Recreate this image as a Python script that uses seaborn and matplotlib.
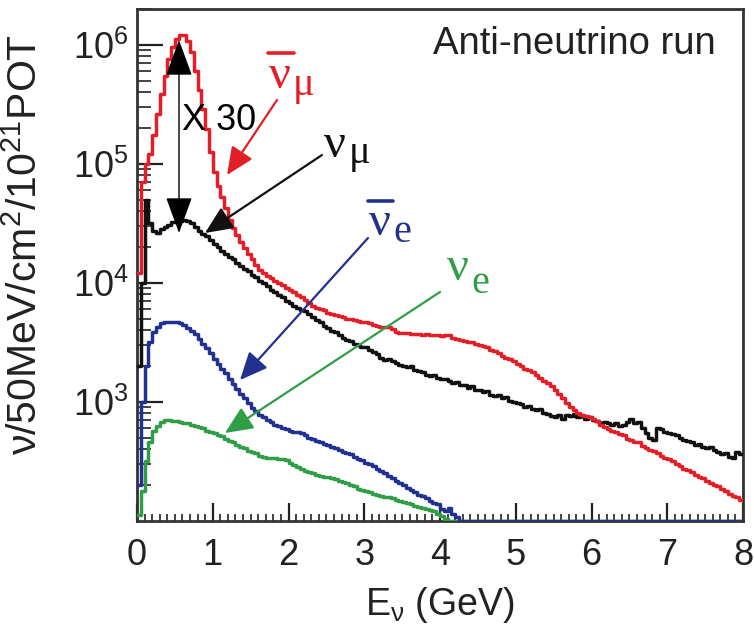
import numpy as np
import pandas as pd
import matplotlib
matplotlib.use("Agg")
import matplotlib.pyplot as plt
from matplotlib.lines import Line2D
from matplotlib.patches import FancyArrowPatch
import seaborn as sns
from matplotlib.ticker import LogLocator, LogFormatterMathtext, MultipleLocator, NullFormatter

# ---------------- data (log10 of flux per 50 MeV bin, bins 0.00-0.05, 0.05-0.10, ... GeV) ----
# None = empty bin (no flux)
BIN_WIDTH = 0.05

log_anti_numu = [
    4.08, 4.85, 5.00, 5.08, 5.24, 5.42, 5.59, 5.74, 5.88, 5.98,
    6.05, 6.08, 6.08, 6.03, 5.94, 5.78, 5.62, 5.46, 5.29, 5.10,
    4.93, 4.81, 4.72, 4.63, 4.53, 4.46, 4.40, 4.34, 4.29, 4.24,
    4.20, 4.15, 4.11, 4.08, 4.06, 4.04, 4.02, 4.00, 3.98, 3.96,
    3.94, 3.92, 3.90, 3.88, 3.86, 3.83, 3.81, 3.79, 3.78, 3.77,
    3.75, 3.74, 3.73, 3.72, 3.71, 3.70, 3.70, 3.69, 3.68, 3.67,
    3.67, 3.66, 3.65, 3.64, 3.63, 3.63, 3.63, 3.61, 3.59, 3.58,
    3.58, 3.58, 3.57, 3.57, 3.57, 3.56, 3.57, 3.56, 3.56, 3.56,
    3.55, 3.56, 3.56, 3.54, 3.53, 3.52, 3.51, 3.50, 3.50, 3.49,
    3.48, 3.47, 3.46, 3.44, 3.43, 3.41, 3.39, 3.37, 3.36, 3.34,
    3.32, 3.30, 3.28, 3.27, 3.25, 3.23, 3.20, 3.18, 3.16, 3.13,
    3.10, 3.07, 3.03, 2.99, 2.96, 2.93, 2.91, 2.89, 2.88, 2.87,
    2.86, 2.84, 2.81, 2.79, 2.77, 2.76, 2.75, 2.73, 2.72, 2.69,
    2.68, 2.66, 2.66, 2.63, 2.61, 2.60, 2.59, 2.57, 2.55, 2.53,
    2.52, 2.50, 2.48, 2.46, 2.44, 2.43, 2.41, 2.39, 2.37, 2.36,
    2.34, 2.32, 2.30, 2.29, 2.27, 2.25, 2.23, 2.21, 2.20, 2.18,
]

log_numu = [
    3.30, 4.00, 4.70, 4.50, 4.44, 4.42, 4.45, 4.47, 4.49, 4.51,
    4.51, 4.52, 4.53, 4.52, 4.50, 4.47, 4.44, 4.41, 4.39, 4.36,
    4.33, 4.30, 4.27, 4.24, 4.22, 4.20, 4.17, 4.14, 4.12, 4.10,
    4.07, 4.05, 4.02, 4.00, 3.97, 3.94, 3.92, 3.90, 3.88, 3.85,
    3.83, 3.81, 3.79, 3.77, 3.76, 3.74, 3.71, 3.69, 3.67, 3.64,
    3.62, 3.60, 3.59, 3.56, 3.54, 3.52, 3.51, 3.49, 3.48, 3.46,
    3.46, 3.44, 3.42, 3.40, 3.37, 3.35, 3.36, 3.34, 3.33, 3.31,
    3.30, 3.29, 3.30, 3.27, 3.26, 3.25, 3.23, 3.22, 3.23, 3.20,
    3.19, 3.19, 3.18, 3.16, 3.17, 3.14, 3.14, 3.12, 3.13, 3.10,
    3.10, 3.08, 3.09, 3.06, 3.05, 3.06, 3.03, 3.04, 3.01, 3.00,
    2.99, 2.98, 2.96, 2.97, 2.94, 2.93, 2.94, 2.91, 2.90, 2.88,
    2.87, 2.89, 2.86, 2.89, 2.88, 2.90, 2.87, 2.88, 2.86, 2.87,
    2.85, 2.84, 2.82, 2.83, 2.82, 2.81, 2.82, 2.80, 2.81, 2.83,
    2.86, 2.82, 2.83, 2.78, 2.74, 2.70, 2.68, 2.78, 2.77, 2.75,
    2.74, 2.73, 2.72, 2.70, 2.68, 2.67, 2.66, 2.64, 2.65, 2.62,
    2.61, 2.62, 2.60, 2.58, 2.56, 2.57, 2.54, 2.53, 2.58, 2.56,
]

log_anti_nue = [
    2.30, 3.00, 3.30, 3.50, 3.59, 3.63, 3.66, 3.67, 3.67, 3.67,
    3.67, 3.66, 3.65, 3.62, 3.60, 3.57, 3.53, 3.49, 3.45, 3.41,
    3.36, 3.32, 3.28, 3.24, 3.19, 3.15, 3.11, 3.07, 3.03, 2.99,
    2.95, 2.92, 2.89, 2.87, 2.85, 2.83, 2.81, 2.80, 2.78, 2.77,
    2.76, 2.75, 2.75, 2.74, 2.72, 2.70, 2.69, 2.67, 2.66, 2.65,
    2.64, 2.62, 2.61, 2.60, 2.58, 2.57, 2.56, 2.54, 2.52, 2.51,
    2.49, 2.48, 2.46, 2.44, 2.42, 2.40, 2.38, 2.36, 2.34, 2.32,
    2.30, 2.28, 2.26, 2.24, 2.22, 2.21, 2.19, 2.17, 2.15, 2.14,
    2.10, 2.08, 2.11, 2.06, 2.03, None, None, None, None, None,
    None, None, None, None, None, None, None, None, None, None,
    None, None, None, None, None, None, None, None, None, None,
    None, None, None, None, None, None, None, None, None, None,
    None, None, None, None, None, None, None, None, None, None,
    None, None, None, None, None, None, None, None, None, None,
    None, None, None, None, None, None, None, None, None, None,
    None, None, None, None, None, None, None, None, None, None,
]

log_nue = [
    2.05, 2.25, 2.50, 2.66, 2.76, 2.80, 2.83, 2.85, 2.85, 2.84,
    2.84, 2.83, 2.82, 2.82, 2.81, 2.80, 2.79, 2.78, 2.76, 2.75,
    2.74, 2.72, 2.71, 2.69, 2.67, 2.66, 2.64, 2.62, 2.61, 2.59,
    2.58, 2.57, 2.55, 2.54, 2.53, 2.53, 2.53, 2.52, 2.52, 2.51,
    2.49, 2.47, 2.45, 2.44, 2.42, 2.41, 2.40, 2.39, 2.38, 2.37,
    2.37, 2.36, 2.35, 2.34, 2.33, 2.32, 2.30, 2.29, 2.27, 2.26,
    2.25, 2.24, 2.23, 2.22, 2.21, 2.20, 2.20, 2.19, 2.18, 2.17,
    2.16, 2.15, 2.14, 2.13, 2.12, 2.11, 2.10, 2.09, 2.08, 2.06,
    2.04, 2.02, None, None, None, None, None, None, None, None,
    None, None, None, None, None, None, None, None, None, None,
    None, None, None, None, None, None, None, None, None, None,
    None, None, None, None, None, None, None, None, None, None,
    None, None, None, None, None, None, None, None, None, None,
    None, None, None, None, None, None, None, None, None, None,
    None, None, None, None, None, None, None, None, None, None,
    None, None, None, None, None, None, None, None, None, None,
]

series_names = ["nue", "anti_nue", "numu", "anti_numu"]
series_logs = [log_nue, log_anti_nue, log_numu, log_anti_numu]
series_colors = ["#2f9e46", "#22318f", "#111111", "#e41e26"]

x_ticks = [0, 1, 2, 3, 4, 5, 6, 7, 8]
y_ticks = [1e3, 1e4, 1e5, 1e6]
X_MIN, X_MAX = 0.0, 8.0
Y_MIN, Y_MAX = 1e2, 2.0e6

# ---------------- build long table ----------------
rows = []
for name, logs in zip(series_names, series_logs):
    n = len(logs)
    edges = np.round(np.arange(n + 1) * BIN_WIDTH, 3)
    vals = [10 ** v if v is not None else 0.0 for v in logs]
    vals = vals + [vals[-1]]
    for e, v in zip(edges, vals):
        rows.append({"E": e, "flux": max(v, Y_MIN), "flavor": name})
df = pd.DataFrame(rows)

# ---------------- style ----------------
sns.set_theme(style="ticks")
plt.rcParams["font.family"] = ["Liberation Sans", "DejaVu Sans"]

W, H = 754, 635
fig = plt.figure(figsize=(W / 100, H / 100), dpi=100)
fig.patch.set_facecolor("white")
L, R, T, B = 137, 743, 9, 521
ax = fig.add_axes([L / W, 1 - B / H, (R - L) / W, (B - T) / H])
ax.set_yscale("log")

sns.lineplot(data=df, x="E", y="flux", hue="flavor", hue_order=series_names,
             palette=dict(zip(series_names, series_colors)), estimator=None,
             drawstyle="steps-post", linewidth=2.5, legend=False, ax=ax)
for ln in ax.lines:
    ln.set_zorder(3)

ax.set_xlim(X_MIN, X_MAX)
ax.set_xticks(x_ticks)
ax.xaxis.set_minor_locator(MultipleLocator(0.1))
ax.set_yticks(y_ticks)
ax.yaxis.set_major_formatter(LogFormatterMathtext())
ax.yaxis.set_minor_locator(LogLocator(base=10, subs=np.arange(2, 10), numticks=20))
ax.yaxis.set_minor_formatter(NullFormatter())
ax.set_ylim(Y_MIN, Y_MAX)

ax.xaxis.set_tick_params(which="major", direction="in", length=13, width=1.6,
                         labelsize=26, pad=12, colors="#222222")
ax.xaxis.set_tick_params(which="minor", direction="in", length=5, width=1.2, colors="#222222")
ax.yaxis.set_tick_params(which="major", direction="in", length=19, width=1.6,
                         labelsize=26, pad=6, colors="#222222")
ax.yaxis.set_tick_params(which="minor", direction="in", length=10, width=1.2, colors="#222222")
ax.tick_params(top=False, right=False, which="both")

for sp in ax.spines.values():
    sp.set_linewidth(2.0)
    sp.set_color("#333333")
    sp.set_visible(True)

ax.set_xlabel(r"E$_\mathregular{\nu}$ (GeV)", fontsize=27, color="#222222")
ax.set_ylabel("ν/50MeV/cm$^\\mathregular{2}$/10$^\\mathregular{21}$POT", fontsize=29.5, color="#222222")
ax.xaxis.set_label_coords(0.5, -(585 - B) / (B - T))
ax.yaxis.set_label_coords(-(L - 45) / (R - L), (B - 245) / (B - T))


def px(x, y):
    return (x / W, 1 - y / H)


# annotation text
fig.text(*px(574, 44), "Anti-neutrino run", fontsize=27.5, color="#222222", ha="center", va="center")
fig.text(*px(219, 121), "X 30", fontsize=26, color="black", ha="center", va="center")

SERIF = ["Liberation Serif", "DejaVu Serif"]
# (main glyph left x, baseline y), subscript, (sub left x, baseline y), bar span or None, colour
label_specs = [
    ((269, 88), "μ", (293, 95), (268, 294, 53), "#e41e26"),
    ((324, 157), "μ", (349, 163), None, "#111111"),
    ((369, 235), "e", (393, 242), (368, 393, 201), "#22318f"),
    ((447, 280), "e", (471, 293), None, "#2f9e46"),
]
for (mx, my), sub, (sx, sy), bar, col in label_specs:
    fig.text(*px(mx, my), "ν", fontsize=35, color=col, ha="left", va="baseline", family=SERIF)
    fig.text(*px(sx, sy), sub, fontsize=29, color=col, ha="left", va="baseline", family=SERIF)
    if bar is not None:
        x0, x1, yb = bar
        fig.add_artist(Line2D([x0 / W, x1 / W], [1 - yb / H, 1 - yb / H],
                              transform=fig.transFigure, color=col, lw=2.6))

arrow_specs = [
    ((277, 100), (227, 175), "#e41e26"),
    ((322, 155), (205, 233), "#111111"),
    ((368, 238), (240, 380), "#22318f"),
    ((440, 292), (225, 433), "#2f9e46"),
]
for tail, head, col in arrow_specs:
    fig.add_artist(FancyArrowPatch(
        px(*tail), px(*head), transform=fig.transFigure,
        arrowstyle="-|>,head_length=0.85,head_width=0.38", mutation_scale=20,
        color=col, lw=1.6, shrinkA=0, shrinkB=0, zorder=6))

fig.add_artist(FancyArrowPatch(
    px(179, 40), px(179, 233), transform=fig.transFigure,
    arrowstyle="<|-|>,head_length=1.15,head_width=0.42", mutation_scale=20,
    color="black", lw=1.0, shrinkA=0, shrinkB=0, zorder=6))

fig.savefig("out.png", dpi=100, facecolor="white")
